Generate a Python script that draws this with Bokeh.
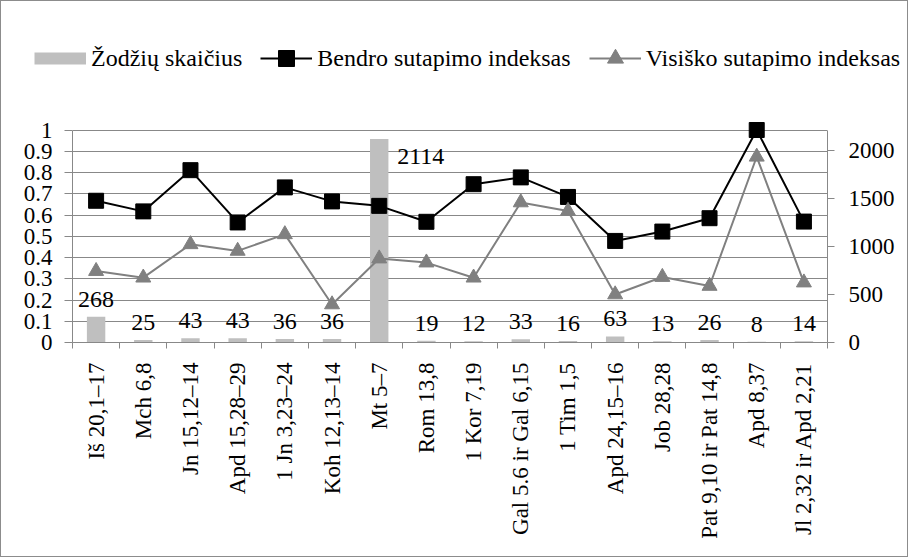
from math import pi
from bokeh.plotting import figure
from bokeh.models import (Range1d, LinearAxis, FixedTicker, CustomJSTickFormatter,
                          ColumnDataSource, LabelSet, Legend, LegendItem)
from bokeh.embed import file_html
from bokeh.resources import INLINE

categories = ["Iš 20,1–17", "Mch 6,8", "Jn 15,12–14", "Apd 15,28–29", "1 Jn 3,23–24",
              "Koh 12,13–14", "Mt 5–7", "Rom 13,8", "1 Kor 7,19", "Gal 5.6 ir Gal 6,15",
              "1 Tim 1,5", "Apd 24,15–16", "Job 28,28", "Pat 9,10 ir Pat 14,8",
              "Apd 8,37", "Jl 2,32 ir Apd 2,21"]
word_counts = [268, 25, 43, 43, 36, 36, 2114, 19, 12, 33, 16, 63, 13, 26, 8, 14]
bendro = [0.667, 0.617, 0.811, 0.565, 0.730, 0.664, 0.643, 0.568,
          0.745, 0.777, 0.685, 0.478, 0.522, 0.585, 1.0, 0.569]
visisko = [0.336, 0.305, 0.462, 0.431, 0.509, 0.179, 0.395, 0.376,
           0.305, 0.659, 0.619, 0.226, 0.308, 0.266, 0.874, 0.282]
series_names = ["Žodžių skaičius", "Bendro sutapimo indeksas", "Visiško sutapimo indeksas"]
left_ticks = [0, 0.1, 0.2, 0.3, 0.4, 0.5, 0.6, 0.7, 0.8, 0.9, 1]
right_ticks = [0, 500, 1000, 1500, 2000]
left_max = 1
right_max = 2208

FONT = "Liberation Serif"
GRID = "#888888"
BORDER = "1px solid #8c8c8c"
BAR = "#BFBFBF"
GRAY = "#808080"
HEAD = 1.04  # head-room so markers at the top are not clipped

n = len(categories)
xs = list(range(1, n + 1))

# ---------------- main chart ----------------
p = figure(width=908, height=457, output_backend="svg", toolbar_location=None,
           x_range=Range1d(0.5, n + 0.5), y_range=Range1d(0, left_max * HEAD),
           min_border_left=71, min_border_right=82, min_border_top=21, min_border_bottom=215)
p.outline_line_color = None
p.background_fill_color = "white"
p.border_fill_color = "white"
p.styles = {"border": BORDER, "border-top": "none"}

p.extra_y_ranges = {"right": Range1d(0, right_max * HEAD)}

p.vbar(x=xs, top=word_counts, width=0.39, y_range_name="right",
       fill_color=BAR, line_color=None)
p.line(xs, bendro, line_color="black", line_width=2)
p.scatter(xs, bendro, marker="square", size=15, fill_color="black", line_color="black")
p.line(xs, visisko, line_color=GRAY, line_width=2)
p.scatter(xs, visisko, marker="triangle", size=15, fill_color=GRAY, line_color=GRAY)

# x axis: labels at category centres, tick marks between categories
p.xaxis.ticker = FixedTicker(ticks=xs, minor_ticks=[x - 0.5 for x in xs] + [n + 0.5])
p.xaxis.major_label_overrides = {x: c for x, c in zip(xs, categories)}
p.xaxis.major_label_orientation = pi / 2
p.xaxis.major_tick_out = 0
p.xaxis.major_tick_in = 0
p.xaxis.minor_tick_out = 6
p.xaxis.minor_tick_in = 0
p.xaxis.minor_tick_line_color = GRID
p.xaxis.axis_line_color = GRID
p.xaxis.major_label_standoff = 14
p.xaxis.major_label_text_font = FONT
p.xaxis.major_label_text_font_size = "23px"
p.xaxis.major_label_text_color = "black"

p.yaxis.ticker = FixedTicker(ticks=left_ticks)
p.yaxis.bounds = (0, left_max)
p.yaxis.formatter = CustomJSTickFormatter(code="return String(Math.round(tick*10)/10);")
p.yaxis.major_tick_out = 8
p.yaxis.major_tick_in = 0
p.yaxis.minor_tick_line_color = None
p.yaxis.major_tick_line_color = GRID
p.yaxis.axis_line_color = GRID
p.yaxis.major_label_standoff = 12
p.yaxis.major_label_text_font = FONT
p.yaxis.major_label_text_font_size = "23px"
p.yaxis.major_label_text_color = "black"

ra = LinearAxis(y_range_name="right", ticker=FixedTicker(ticks=right_ticks), bounds=(0, right_max))
ra.major_tick_out = 7
ra.major_tick_in = 0
ra.minor_tick_line_color = None
ra.major_tick_line_color = GRID
ra.axis_line_color = GRID
ra.major_label_standoff = 14
ra.major_label_text_font = FONT
ra.major_label_text_font_size = "23px"
ra.major_label_text_color = "black"
p.add_layout(ra, "right")

p.xgrid.grid_line_color = None
p.ygrid.ticker = FixedTicker(ticks=left_ticks)
p.ygrid.grid_line_color = GRID
p.ygrid.grid_line_width = 1

# bar value labels
imax = word_counts.index(max(word_counts))
idx = [i for i in range(n) if i != imax]
src = ColumnDataSource(dict(x=[xs[i] for i in idx], y=[word_counts[i] for i in idx],
                            t=[str(word_counts[i]) for i in idx]))
p.add_layout(LabelSet(x="x", y="y", text="t", source=src, y_range_name="right",
                      text_align="center", text_baseline="bottom", y_offset=10,
                      text_font=FONT, text_font_size="24px", text_color="black"))
src2 = ColumnDataSource(dict(x=[xs[imax]], y=[word_counts[imax]], t=[str(word_counts[imax])]))
p.add_layout(LabelSet(x="x", y="y", text="t", source=src2, y_range_name="right",
                      text_align="left", text_baseline="top", x_offset=18, y_offset=-10,
                      text_font=FONT, text_font_size="24px", text_color="black"))

# ---------------- legend strip (separate root, stacked above) ----------------
lg = figure(width=908, height=100, output_backend="svg", toolbar_location=None,
            x_axis_location=None, y_axis_location=None,
            x_range=Range1d(0.5, n + 0.5), y_range=Range1d(0, 1),
            min_border_left=0, min_border_right=0, min_border_top=0, min_border_bottom=0)
lg.grid.visible = False
lg.outline_line_color = None
lg.background_fill_color = "white"
lg.border_fill_color = "white"
lg.styles = {"border": BORDER, "border-bottom": "none"}

# hidden copies of the series: they only provide the legend swatches
sw_bar = lg.line(xs, bendro, line_color=BAR, line_width=12, visible=False)
sw_l1 = lg.line(xs, bendro, line_color="black", line_width=2, visible=False)
sw_s1 = lg.scatter(xs, bendro, marker="square", fill_color="black", line_color="black", visible=False)
sw_l2 = lg.line(xs, visisko, line_color=GRAY, line_width=2, visible=False)
sw_s2 = lg.scatter(xs, visisko, marker="triangle", fill_color=GRAY, line_color=GRAY, visible=False)

legend = Legend(items=[
    LegendItem(label=series_names[0], renderers=[sw_bar]),
    LegendItem(label=series_names[1], renderers=[sw_l1, sw_s1]),
    LegendItem(label=series_names[2], renderers=[sw_l2, sw_s2]),
], orientation="horizontal", location=(33, 23))
legend.glyph_width = 52
legend.glyph_height = 40
legend.label_standoff = 5
legend.spacing = 18
legend.padding = 0
legend.margin = 0
legend.border_line_color = None
legend.background_fill_alpha = 0
legend.inactive_fill_alpha = 0
legend.label_text_font = FONT
legend.label_text_font_size = "24px"
legend.label_text_color = "black"
lg.add_layout(legend, "center")

open("out.html", "w").write(file_html([lg, p], INLINE))
